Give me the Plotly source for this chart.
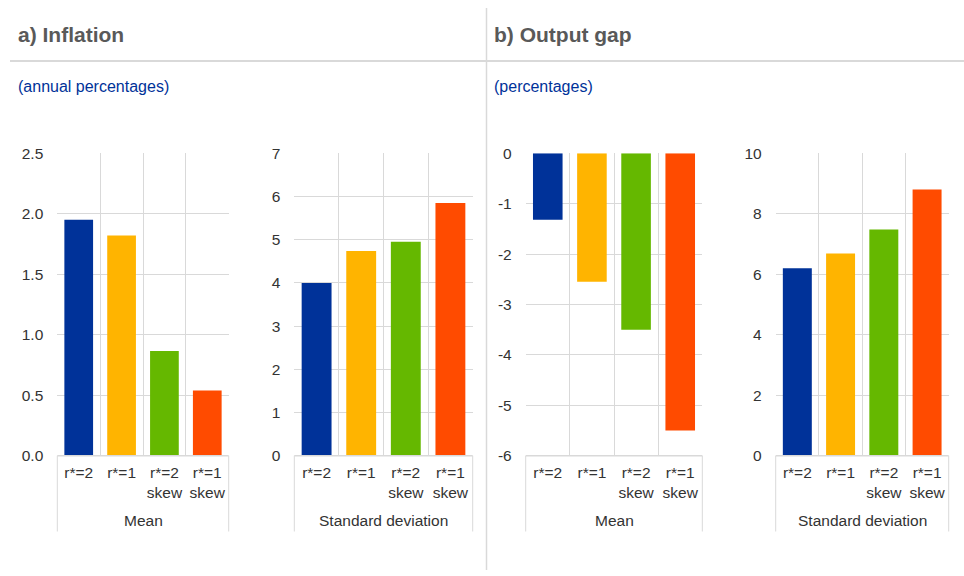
import plotly.graph_objects as go

W, H = 964, 576

categories = ["r*=2", "r*=1", "r*=2<br>skew", "r*=1<br>skew"]
colors = ["#003299", "#FFB400", "#65B800", "#FF4B00"]

infl_mean = [1.95, 1.82, 0.865, 0.54]
infl_std = [4.0, 4.74, 4.95, 5.85]
gap_mean = [-1.32, -2.55, -3.5, -5.5]
gap_std = [6.2, 6.69, 7.48, 8.8]

panel_titles = ["a) Inflation", "b) Output gap"]
panel_units = ["(annual percentages)", "(percentages)"]
group_labels = ["Mean", "Standard deviation", "Mean", "Standard deviation"]

# y tick values and labels per chart
yticks_infl_mean = [0, 0.5, 1.0, 1.5, 2.0, 2.5]
ylabels_infl_mean = ["0.0", "0.5", "1.0", "1.5", "2.0", "2.5"]
yticks_infl_std = [0, 1, 2, 3, 4, 5, 6, 7]
ylabels_infl_std = ["0", "1", "2", "3", "4", "5", "6", "7"]
yticks_gap_mean = [0, -1, -2, -3, -4, -5, -6]
ylabels_gap_mean = ["0", "-1", "-2", "-3", "-4", "-5", "-6"]
yticks_gap_std = [0, 2, 4, 6, 8, 10]
ylabels_gap_std = ["0", "2", "4", "6", "8", "10"]

series = [infl_mean, infl_std, gap_mean, gap_std]
ytickvals = [yticks_infl_mean, yticks_infl_std, yticks_gap_mean, yticks_gap_std]
yticktext = [ylabels_infl_mean, ylabels_infl_std, ylabels_gap_mean, ylabels_gap_std]
yranges = [[0, 2.5], [0, 7], [-6, 0], [0, 10]]

# plot areas in pixels (left, right)
xpix = [(57.3, 228.7), (294.3, 472.7), (525.7, 702.3), (775.7, 948.7)]
ytop, ybot = 153.3, 455.7

def px(x):
    return x / W

def py(y):
    return 1 - y / H

fig = go.Figure()
grid = "#D9D9D9"
font_fam = "Liberation Sans, Arial, sans-serif"
txt = "#333333"
fs = 15.5

layout = dict(
    width=W, height=H,
    margin=dict(l=0, r=0, t=0, b=0, autoexpand=False),
    paper_bgcolor="white", plot_bgcolor="white",
    showlegend=False,
    font=dict(family=font_fam, size=fs, color=txt),
)

shapes = []
annotations = []

for i in range(4):
    xa = "x" if i == 0 else f"x{i+1}"
    ya = "y" if i == 0 else f"y{i+1}"
    fig.add_trace(go.Bar(
        x=categories, y=series[i], marker=dict(color=colors, line=dict(width=0)),
        xaxis=xa, yaxis=ya, width=0.67, hoverinfo="skip",
    ))
    xk = "xaxis" if i == 0 else f"xaxis{i+1}"
    yk = "yaxis" if i == 0 else f"yaxis{i+1}"
    l, r = xpix[i]
    layout[xk] = dict(
        domain=[px(l), px(r)], anchor=ya, type="category",
        tickson="boundaries", showgrid=True, gridcolor=grid, gridwidth=1,
        ticks="", showline=False, zeroline=False, automargin=False,
        tickangle=0,
        tickfont=dict(size=fs, color=txt), ticklabelstandoff=6,
        range=[-0.5, 3.5], fixedrange=True,
    )
    layout[yk] = dict(
        domain=[py(ybot), py(ytop)], anchor=xa, range=yranges[i],
        tickmode="array", tickvals=ytickvals[i], ticktext=yticktext[i],
        showgrid=True, gridcolor=grid, gridwidth=1, automargin=False,
        zeroline=False, showline=False, ticks="", fixedrange=True,
        tickfont=dict(size=fs, color=txt), ticklabelstandoff=13,
    )
    shapes.append(dict(type="line", xref="paper", yref="paper",
                       x0=px(l), x1=px(r), y0=py(ybot), y1=py(ybot),
                       line=dict(color=grid, width=1.5)))
    for xx in (l, r):
        shapes.append(dict(type="line", xref="paper", yref="paper",
                           x0=px(xx), x1=px(xx), y0=py(ybot), y1=py(531.5),
                           line=dict(color=grid, width=1)))
    annotations.append(dict(text=group_labels[i], xref="paper", yref="paper",
                            x=px((l + r) / 2), y=py(520), xanchor="center", yanchor="middle",
                            showarrow=False, font=dict(size=fs, color=txt)))

shapes.append(dict(type="line", xref="paper", yref="paper",
                   x0=px(10), x1=1, y0=py(61), y1=py(61),
                   line=dict(color="#D9D9D9", width=2)))
shapes.append(dict(type="line", xref="paper", yref="paper",
                   x0=px(486.5), x1=px(486.5), y0=py(8), y1=py(570),
                   line=dict(color="#D9D9D9", width=1.5)))

for k, x0 in enumerate([16, 492]):
    annotations.append(dict(text="<b>" + panel_titles[k] + "</b>", xref="paper", yref="paper",
                            x=px(x0), y=py(35), xanchor="left", yanchor="middle",
                            showarrow=False, font=dict(size=21, color="#595959")))
    annotations.append(dict(text=panel_units[k], xref="paper", yref="paper",
                            x=px(x0), y=py(86), xanchor="left", yanchor="middle",
                            showarrow=False, font=dict(size=16, color="#003299")))

layout["shapes"] = shapes
layout["annotations"] = annotations
fig.update_layout(**layout)
fig.write_html("out.html", config={"displayModeBar": False, "staticPlot": True},
               post_script="document.body.style.margin='0';document.body.style.padding='0';")
